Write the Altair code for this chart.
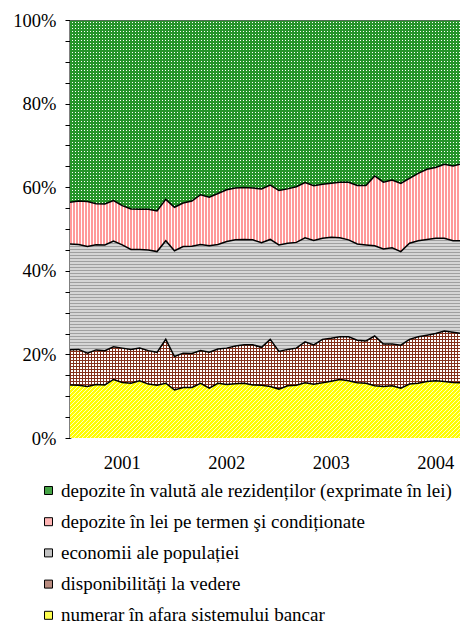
import math
import altair as alt
import pandas as pd
import numpy as np

# ---------------- data (percent shares, monthly, Jan 2001 .. Nov 2004) ----------------
years = ["2001", "2002", "2003", "2004"]

numerar = [12.7, 12.6, 12.3, 12.8, 12.7, 14.0, 13.3, 13.1, 13.7, 12.9, 12.6, 13.1,
           11.5, 12.1, 12.1, 13.1, 11.9, 13.1, 12.8, 13.0, 13.1, 12.7, 12.6, 12.3,
           11.7, 12.5, 12.6, 13.2, 12.9, 13.2, 13.6, 14.0, 13.7, 13.2, 13.1, 12.5,
           12.3, 12.5, 11.9, 12.9, 13.1, 13.5, 13.7, 13.5, 13.3, 13.2, 12.9]
disponibilitati = [8.4, 8.6, 8.0, 8.3, 8.2, 7.8, 8.2, 8.1, 7.8, 8.0, 7.9, 10.5,
                   8.0, 8.2, 8.1, 7.8, 8.6, 8.2, 8.7, 9.0, 9.2, 9.6, 9.1, 11.3,
                   9.0, 8.7, 8.9, 9.8, 9.4, 10.4, 10.3, 10.2, 10.5, 10.2, 10.1, 11.9,
                   10.2, 10.0, 10.3, 10.7, 11.1, 11.1, 11.3, 12.1, 12.0, 11.8, 11.7]
economii = [25.3, 25.1, 25.5, 25.2, 25.3, 25.3, 24.7, 23.9, 23.6, 24.1, 24.1, 23.6,
            25.3, 25.5, 25.7, 25.4, 25.5, 25.0, 25.5, 25.4, 25.2, 25.1, 25.0, 23.9,
            25.5, 25.4, 25.3, 24.9, 25.0, 24.2, 24.2, 23.7, 23.2, 23.0, 23.0, 21.6,
            22.7, 23.0, 22.4, 23.0, 23.0, 22.9, 22.8, 22.2, 21.9, 22.2, 22.9]
depozite_lei = [10.0, 10.4, 10.8, 9.8, 9.8, 9.7, 9.4, 9.7, 9.6, 9.7, 9.7, 9.9,
                10.4, 10.4, 10.8, 11.9, 11.6, 12.2, 12.4, 12.4, 12.4, 12.4, 12.9, 13.0,
                13.0, 13.0, 13.3, 13.2, 13.1, 12.9, 12.9, 13.3, 13.8, 14.0, 14.2, 16.7,
                16.0, 16.2, 16.3, 15.5, 16.1, 16.8, 16.9, 17.7, 17.9, 18.4, 18.6]
depozite_valuta = [43.6, 43.3, 43.4, 44.0, 44.0, 43.2, 44.4, 45.2, 45.3, 45.3, 45.7, 42.9,
                   44.8, 43.8, 43.3, 41.8, 42.4, 41.5, 40.6, 40.2, 40.1, 40.2, 40.4, 39.5,
                   40.8, 40.4, 39.9, 38.9, 39.7, 39.3, 39.1, 38.8, 38.8, 39.6, 39.6, 37.3,
                   38.8, 38.3, 39.1, 37.9, 36.7, 35.7, 35.3, 34.5, 34.9, 34.4, 33.9]

names = [
    "depozite în valută ale rezidenților (exprimate în lei)",
    "depozite în lei pe termen şi condiționate",
    "economii ale populației",
    "disponibilități la vedere",
    "numerar în afara sistemului bancar",
]
series = [depozite_valuta, depozite_lei, economii, disponibilitati, numerar]

months = list(range(len(numerar)))
rows = []
for k, (nm, vals) in enumerate(zip(names, series)):
    for t, v in zip(months, vals):
        rows.append({"t": t, "s": nm, "v": v, "ord": len(names) - 1 - k})
df = pd.DataFrame(rows)

# ---------------- layout / style ----------------
W, H = 390, 418
XMAX = 44.8            # visible part of the month axis
FONT = "Liberation Serif, Times New Roman, Times, serif"
legend_colors = ["#45a345", "#ffb5b5", "#c2c2c2", "#b98c80", "#ffff50"]

arr = np.array(series[::-1], dtype=float)  # bottom -> top
arr = arr / arr.sum(axis=0)
cum = np.cumsum(arr, axis=0)
low = np.vstack([np.zeros(arr.shape[1]), cum[:-1]])


def bbox_y(idx_bottom_up):
    top = (1.0 - cum[idx_bottom_up].max()) * H
    bot = (1.0 - low[idx_bottom_up].min()) * H
    return top, bot - top

BW = W * (len(months) - 1) / XMAX   # drawn width of full data extent


def stops_px(c1, c2, start, length, on, period=3):
    """pixel-aligned stripes: c1 for `on` px, then c2, repeating from integer pixel grid"""
    end = start + length
    x = math.floor(start)
    edges = []
    while x < end + period:
        edges.append((x, c1))
        edges.append((x + on, c2))
        x += period
    st = []
    for i in range(len(edges) - 1):
        s0, col = edges[i]
        s1 = edges[i + 1][0]
        a, b = max(s0, start), min(s1, end)
        if b <= a:
            continue
        st.append(alt.GradientStop(offset=(a - start) / length, color=col))
        st.append(alt.GradientStop(offset=(b - start) / length, color=col))
    return st


def vstripes(c1, c2, on):
    return alt.LinearGradient(gradient="linear", stops=stops_px(c1, c2, 0.0, BW, on),
                              x1=0, x2=1, y1=0, y2=0)


def hstripes(c1, c2, on, idx):
    top, h = bbox_y(idx)
    return alt.LinearGradient(gradient="linear", stops=stops_px(c1, c2, top, h, on),
                              x1=0, x2=0, y1=0, y2=1)


def dstripes(c1, c2, on, idx, period=4):
    top, h = bbox_y(idx)
    k = (BW + h) / (BW * BW + h * h)
    return alt.LinearGradient(gradient="linear",
                              stops=stops_px(c1, c2, top - 0.5, BW + h, on, period),
                              x1=0, y1=0, x2=float(k * BW), y2=float(k * h))


xscale = alt.Scale(domain=[0, XMAX], nice=False, zero=False)
X = alt.X("t:Q", scale=xscale,
          axis=alt.Axis(values=[0, 12, 24, 36], labels=False, title=None, grid=False,
                        tickSize=7, tickColor="black", tickWidth=1,
                        domainColor="black", domainWidth=1.5))
Y = alt.Y("y1:Q", scale=alt.Scale(domain=[0, 1], nice=False),
          axis=alt.Axis(values=[round(i * 0.05, 2) for i in range(21)],
                        labelExpr="(round(datum.value*100) % 20 == 0) ? (round(datum.value*100) + '%') : ''",
                        title=None, grid=False, tickSize=5, tickColor="black", tickWidth=1,
                        domainColor="black", domainWidth=2, labelPadding=9,
                        labelFont=FONT, labelFontSize=18.5, labelColor="black"))
Y2 = alt.Y2("y0:Q")

base = alt.Chart(df).transform_stack(
    stack="v", groupby=["t"], as_=["y0", "y1"], offset="normalize",
    sort=[alt.SortField("ord", order="ascending")]
)

solid = base.mark_area(clip=True).encode(
    x=X, y=Y, y2=Y2,
    color=alt.Color("s:N", scale=alt.Scale(domain=names, range=legend_colors),
                    legend=alt.Legend(title=None, orient="none", legendX=-31, legendY=461,
                                      direction="vertical", symbolType="square", symbolSize=64,
                                      symbolStrokeColor="black", symbolStrokeWidth=1,
                                      symbolOpacity=1, labelFont=FONT, labelFontSize=19,
                                      labelColor="black", rowPadding=11.2, labelOffset=3,
                                      labelLimit=0)),
)


def overlay(name, grad):
    return base.transform_filter(alt.datum.s == name).mark_area(color=grad, clip=True).encode(
        x=X, y=Y, y2=Y2)


green = "#26942a"
brown = "#84301c"
clear = "rgba(255,255,255,0)"
layers = [solid]
layers.append(overlay(names[0], vstripes(green, "#ffffff", 2)))
layers.append(overlay(names[0], hstripes(green, clear, 2, 4)))
layers.append(overlay(names[1], vstripes("#ff9a9a", "#ffffff", 2)))
layers.append(overlay(names[2], hstripes("#a0a0a0", "#d6d6d6", 1, 2)))
layers.append(overlay(names[3], vstripes(brown, "#ffffff", 1)))
layers.append(overlay(names[3], hstripes(brown, clear, 1, 1)))
layers.append(overlay(names[4], dstripes("#ffff00", "#ffffc0", 3, 0)))

lines = base.transform_filter(alt.datum.s != names[0]).mark_line(
    color="black", strokeWidth=1.5, clip=True).encode(x=X, y=Y, detail="s:N")
topline = base.transform_filter(alt.datum.s == names[0]).mark_line(
    color="#666666", strokeWidth=1.5, clip=True).encode(x=X, y=Y)
layers += [lines, topline]

ydf = pd.DataFrame({"t": [12 * i + 6 for i in range(len(years))], "lab": years})
ytext = alt.Chart(ydf).mark_text(font=FONT, fontSize=18.5, color="black", baseline="alphabetic").encode(
    x=alt.X("t:Q", scale=xscale, axis=None),
    y=alt.value(H + 31), text="lab:N")
layers.append(ytext)

chart = alt.layer(*layers).properties(
    width=W, height=H,
    autosize=alt.AutoSizeParams(type="none"),
    padding={"left": 62, "top": 12, "right": 0, "bottom": 189},
).configure_view(stroke=None)

chart.save("out.html", embed_options={"renderer": "svg", "actions": False})
